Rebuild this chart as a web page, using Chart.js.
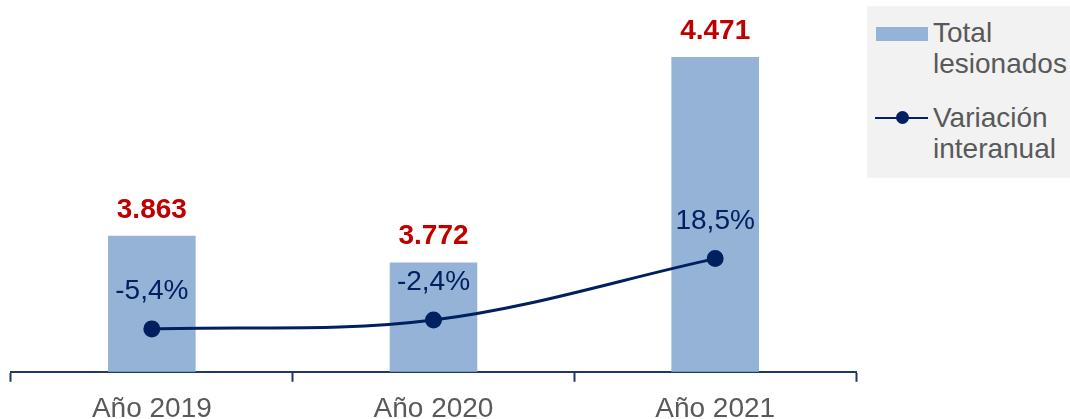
<!DOCTYPE html>
<html lang="es">
<head>
<meta charset="utf-8">
<script src="https://cdn.jsdelivr.net/npm/chart.js@4.4.1/dist/chart.umd.min.js"></script>
<style>
  html, body { margin: 0; padding: 0; background: #ffffff; overflow: hidden; }
  #wrap { position: relative; width: 1070px; height: 419px; font-family: "Liberation Sans", Arial, sans-serif; }
  #chartBox { position: absolute; left: 0; top: 0; width: 866px; height: 419px; }
  #legend { position: absolute; left: 867px; top: 6px; width: 203px; height: 172px; background: #f2f2f2; }
  .lg-text { position: absolute; left: 66px; font-size: 28px; line-height: 31px; color: #595959; white-space: nowrap; }
  .lg-bar { position: absolute; left: 9px; top: 21px; width: 52px; height: 14px; background: #95b3d7; }
  .lg-line { position: absolute; left: 8px; top: 111px; width: 53px; height: 2px; background: #002060; }
  .lg-dot { position: absolute; left: 29px; top: 105px; width: 13px; height: 13px; border-radius: 50%; background: #002060; }
</style>
</head>
<body>
<div id="wrap">
  <div id="chartBox"><canvas id="lesionadosChart"></canvas></div>
  <div id="legend">
    <div class="lg-bar"></div>
    <div class="lg-text" style="top: 11px;">Total<br>lesionados</div>
    <div class="lg-line"></div>
    <div class="lg-dot"></div>
    <div class="lg-text" style="top: 96px;">Variación<br>interanual</div>
  </div>
</div>
<script>
// chart data
const categories = ['Año 2019', 'Año 2020', 'Año 2021'];
const totalLesionados = [3863, 3772, 4471];
const variacionInteranual = [-5.4, -2.4, 18.5];

const fontFamily = '"Liberation Sans", Arial, sans-serif';

function fmtThousands(n) {
    return String(n).replace(/\B(?=(\d{3})+(?!\d))/g, '.');
}
function fmtPercent(v) {
    return v.toFixed(1).replace('.', ',') + '%';
}

// draws the value labels above bars and points
const valueLabels = {
    id: 'valueLabels',
    afterDatasetsDraw(chart) {
        const ctx = chart.ctx;
        ctx.save();
        ctx.textAlign = 'center';
        ctx.textBaseline = 'alphabetic';

        chart.getDatasetMeta(1).data.forEach((el, i) => {
            ctx.font = 'bold 28px ' + fontFamily;
            ctx.fillStyle = '#c00000';
            ctx.fillText(fmtThousands(totalLesionados[i]), el.x, el.y - 18);
        });
        chart.getDatasetMeta(0).data.forEach((el, i) => {
            ctx.font = '28px ' + fontFamily;
            ctx.fillStyle = '#002060';
            ctx.fillText(fmtPercent(variacionInteranual[i]), el.x, el.y - 30);
        });
        ctx.restore();
    }
};

const ctx = document.getElementById('lesionadosChart').getContext('2d');
new Chart(ctx, {
    data: {
        labels: categories,
        datasets: [
            {
                type: 'line',
                label: 'Variación interanual',
                data: variacionInteranual,
                yAxisID: 'y1',
                order: 0,
                borderColor: '#002060',
                backgroundColor: '#002060',
                borderWidth: 3,
                pointRadius: 7,
                pointHoverRadius: 7,
                tension: 0.35,
                fill: false
            },
            {
                type: 'bar',
                label: 'Total lesionados',
                data: totalLesionados,
                yAxisID: 'y',
                order: 1,
                backgroundColor: '#95b3d7',
                borderWidth: 0,
                categoryPercentage: 1,
                barPercentage: 0.311
            }
        ]
    },
    options: {
        responsive: true,
        maintainAspectRatio: false,
        animation: false,
        layout: { padding: { left: 11, right: 7, top: 19, bottom: -18 } },
        plugins: {
            legend: { display: false },
            tooltip: { enabled: false }
        },
        scales: {
            x: {
                offset: true,
                border: { display: true, color: '#1f3864', width: 2 },
                grid: {
                    offset: true,
                    drawOnChartArea: false,
                    drawTicks: true,
                    tickLength: 10,
                    tickWidth: 2,
                    tickColor: '#1f3864'
                },
                ticks: {
                    color: '#595959',
                    padding: 15,
                    font: { family: fontFamily, size: 28, lineHeight: 0.9 }
                }
            },
            y: { display: false, min: 3400, max: 4600 },
            y1: { display: false, min: -20, max: 100 }
        }
    },
    plugins: [valueLabels]
});
</script>
</body>
</html>
